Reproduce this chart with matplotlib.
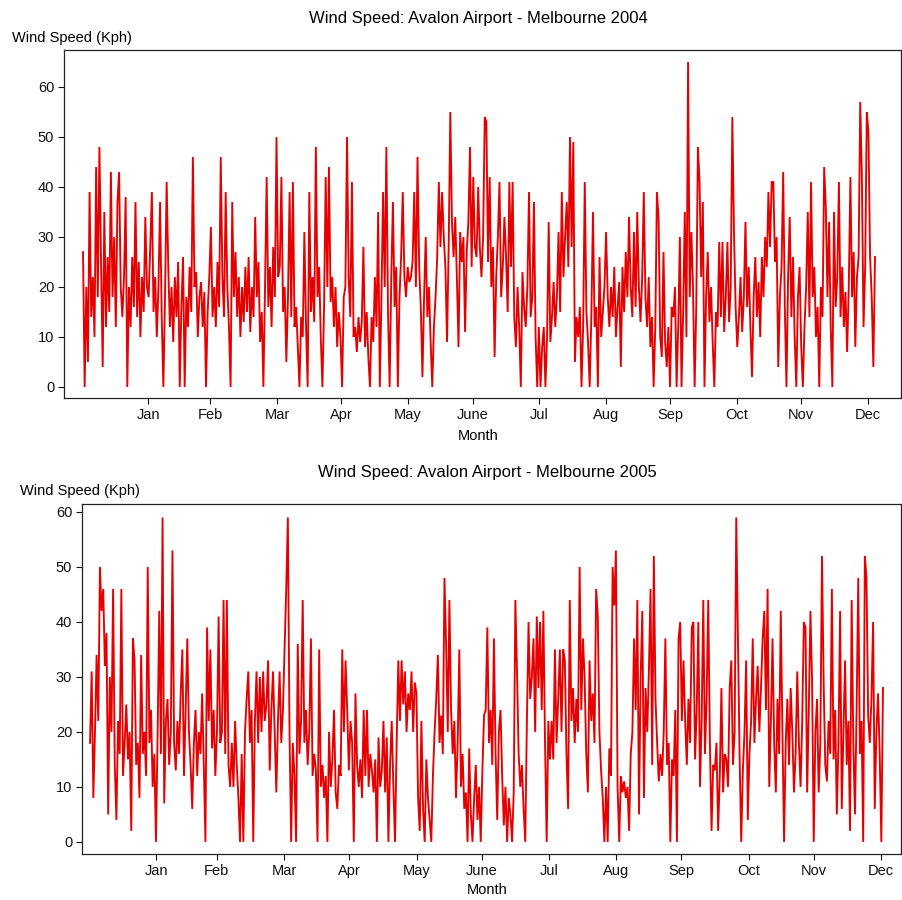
#!/usr/bin/env python3

import matplotlib
matplotlib.use('Agg')
import matplotlib.pyplot as plt
import numpy as np

plt.rcParams['font.family'] = ['Liberation Sans', 'DejaVu Sans']

MONTHS = ['Jan', 'Feb', 'Mar', 'Apr', 'May', 'June',
          'Jul', 'Aug', 'Sep', 'Oct', 'Nov', 'Dec']
MONTH_END_2004 = [31, 60, 91, 121, 152, 182, 213, 244, 274, 305, 335, 366]
MONTH_END_2005 = [31, 59, 90, 120, 151, 181, 212, 243, 273, 304, 334, 365]
Y_TICKS = [0, 10, 20, 30, 40, 50, 60]

# wind speed (kph), one row per month
speed_2004 = [
  27, 0, 20, 5, 39, 14, 22, 10, 44, 18, 48, 25, 4, 35, 12, 26, 15, 43, 18, 30,
  12, 37, 43, 20, 14, 22, 38, 0, 20, 12, 26, 16, 37, 14, 25, 10, 22, 15, 34, 20,
  18, 28, 39, 15, 22, 10, 20, 37, 14, 0, 18, 41, 24, 12, 20, 9, 22, 14, 25, 0,
  16, 26, 0, 18, 12, 24, 15, 46, 20, 23, 10, 18, 21, 12, 19, 0, 15, 22, 32, 14,
  20, 12, 25, 16, 46, 22, 14, 39, 20, 12, 0, 37, 18, 27, 14, 22, 10, 20, 13, 24,
  15, 26, 11, 20, 14, 34, 18, 25, 9, 15, 0, 20, 42, 16, 24, 12, 28, 18, 50, 22,
  24, 42, 15, 20, 5, 18, 39, 14, 41, 12, 16, 8, 0, 14, 10, 31, 12, 0, 39, 15,
  22, 13, 48, 18, 24, 10, 0, 16, 42, 20, 44, 17, 22, 12, 20, 8, 15, 10, 0, 18,
  20, 50, 22, 14, 41, 10, 12, 7, 14, 9, 13, 28, 8, 15, 6, 0, 14, 9, 22, 12,
  35, 0, 18, 39, 20, 48, 15, 0, 22, 37, 16, 24, 0, 18, 26, 39, 22, 18, 24, 21,
  22, 25, 39, 20, 46, 24, 16, 2, 18, 30, 14, 20, 9, 0, 12, 18, 26, 41, 28, 39,
  30, 24, 9, 28, 55, 33, 26, 34, 22, 8, 31, 25, 30, 11, 27, 33, 48, 24, 42, 28,
  26, 40, 28, 22, 30, 54, 53, 25, 42, 20, 28, 6, 22, 30, 41, 18, 24, 34, 26, 15,
  41, 24, 41, 14, 8, 20, 12, 0, 23, 16, 12, 20, 39, 14, 18, 37, 10, 0, 12, 0,
  8, 12, 0, 10, 33, 9, 14, 21, 12, 18, 31, 15, 39, 22, 30, 37, 24, 50, 28, 49,
  5, 14, 10, 16, 0, 12, 41, 15, 9, 0, 14, 35, 12, 16, 0, 26, 10, 15, 20, 31,
  18, 12, 20, 14, 24, 10, 16, 21, 4, 24, 15, 27, 18, 34, 20, 14, 31, 16, 35, 20,
  13, 22, 39, 18, 12, 22, 8, 14, 0, 12, 39, 34, 10, 6, 27, 9, 4, 12, 0, 16,
  14, 20, 0, 12, 30, 0, 15, 35, 10, 65, 18, 31, 20, 0, 16, 48, 41, 22, 37, 0,
  18, 27, 13, 20, 9, 0, 15, 12, 29, 14, 29, 11, 18, 29, 13, 20, 54, 31, 16, 8,
  14, 22, 11, 18, 33, 16, 24, 12, 2, 18, 26, 14, 21, 10, 26, 18, 30, 24, 39, 28,
  41, 41, 25, 30, 4, 18, 24, 43, 16, 0, 22, 34, 14, 26, 10, 0, 18, 24, 8, 0,
  12, 20, 35, 14, 41, 18, 24, 10, 16, 0, 20, 14, 44, 36, 18, 33, 12, 0, 35, 16,
  22, 41, 14, 24, 12, 19, 7, 20, 42, 18, 27, 8, 22, 26, 57, 42, 12, 24, 55, 51,
  26, 18, 4, 26,
]

speed_2005 = [
  18, 31, 8, 20, 34, 22, 50, 42, 46, 32, 38, 5, 30, 20, 46, 14, 4, 22, 16, 46,
  12, 18, 25, 15, 20, 2, 37, 33, 14, 18, 8, 34, 16, 20, 12, 50, 18, 24, 10, 16,
  0, 20, 42, 16, 59, 7, 22, 26, 14, 20, 53, 18, 13, 22, 16, 27, 35, 12, 24, 37,
  20, 14, 6, 18, 24, 12, 20, 16, 27, 14, 0, 39, 22, 35, 17, 24, 12, 20, 41, 18,
  20, 44, 16, 44, 14, 10, 18, 10, 22, 14, 8, 0, 16, 0, 20, 26, 31, 18, 24, 0,
  22, 31, 18, 30, 20, 31, 22, 25, 33, 13, 24, 31, 20, 9, 22, 31, 18, 24, 35, 46,
  59, 20, 0, 18, 12, 0, 36, 16, 22, 44, 18, 24, 14, 20, 37, 12, 16, 13, 0, 35,
  10, 14, 8, 12, 0, 20, 10, 15, 24, 9, 6, 14, 12, 35, 20, 33, 24, 13, 22, 18,
  0, 27, 14, 10, 15, 8, 24, 12, 24, 10, 16, 13, 9, 15, 0, 19, 10, 13, 22, 9,
  19, 0, 14, 22, 10, 0, 18, 33, 22, 33, 25, 31, 20, 27, 24, 31, 20, 29, 27, 8,
  2, 22, 6, 0, 15, 8, 4, 0, 12, 20, 26, 34, 18, 23, 16, 48, 36, 20, 44, 24,
  16, 22, 8, 18, 35, 10, 16, 6, 9, 0, 17, 5, 0, 8, 14, 4, 10, 0, 13, 23,
  24, 39, 18, 24, 14, 37, 16, 4, 20, 24, 12, 3, 10, 0, 8, 5, 0, 9, 44, 31,
  16, 10, 14, 6, 0, 22, 40, 26, 30, 37, 20, 41, 28, 40, 24, 42, 18, 0, 22, 15,
  22, 15, 35, 18, 26, 35, 20, 35, 33, 16, 6, 44, 22, 28, 18, 26, 20, 50, 24, 37,
  30, 16, 9, 33, 22, 27, 18, 46, 41, 20, 13, 8, 0, 10, 0, 17, 12, 50, 43, 53,
  10, 0, 12, 9, 11, 8, 10, 2, 16, 20, 37, 24, 44, 5, 30, 42, 8, 28, 20, 31,
  46, 14, 52, 26, 18, 11, 16, 12, 20, 37, 14, 18, 0, 15, 12, 24, 0, 37, 40, 22,
  33, 22, 14, 26, 18, 39, 40, 15, 24, 40, 10, 22, 44, 16, 26, 44, 18, 2, 14, 13,
  18, 2, 12, 28, 9, 16, 15, 10, 28, 33, 14, 20, 59, 37, 16, 0, 13, 20, 33, 4,
  16, 22, 37, 18, 26, 32, 20, 28, 37, 42, 24, 46, 10, 22, 37, 18, 9, 26, 16, 42,
  20, 0, 18, 26, 14, 28, 20, 9, 16, 31, 18, 10, 22, 40, 39, 9, 24, 42, 29, 0,
  20, 26, 9, 18, 52, 29, 14, 11, 22, 16, 46, 15, 24, 5, 18, 42, 6, 20, 33, 14,
  22, 2, 44, 18, 5, 24, 48, 16, 22, 0, 52, 48, 23, 18, 26, 40, 6, 20, 27, 16,
  0, 28,
]


def draw_panel(fig, rect, speeds, days, month_end, xlim, ylim, year,
               title_y, ylabel_x, ylabel_y, xlabel_y):
  ax = fig.add_axes(rect)
  x = np.linspace(days[0], days[1], len(speeds))
  ax.plot(x, speeds, color='#e60000', lw=1.35, solid_joinstyle='miter')
  ax.set_xlim(*xlim)
  ax.set_ylim(*ylim)
  ax.set_xticks(month_end)
  ax.set_xticklabels(MONTHS)
  ax.set_yticks(Y_TICKS)
  ax.tick_params(direction='out', length=4, width=0.8, labelsize=10.5,
                 colors='#111111', pad=3)
  for side in ['left', 'bottom', 'top', 'right']:
    ax.spines[side].set_linewidth(0.9)
    ax.spines[side].set_color('#222222')

  cx = (rect[0] + rect[0] + rect[2]) / 2
  fig.text(cx - 4 / 903, title_y,
           'Wind Speed: Avalon Airport - Melbourne {}'.format(year),
           ha='center', va='center', fontsize=12)
  fig.text(ylabel_x, ylabel_y, 'Wind Speed (Kph)', ha='left', va='center',
           fontsize=10.5)
  fig.text(cx - 4 / 903, xlabel_y, 'Month', ha='center', va='center',
           fontsize=10.5)
  return ax


def main():
  fig = plt.figure(figsize=(9.03, 9.0), dpi=100)

  draw_panel(fig, [64 / 903, 1 - 398 / 900, 837 / 903, 348 / 900],
             speed_2004, (0.75, 369.3), MONTH_END_2004,
             (-8.1, 381.4), (-2.2, 67.4), 2004,
             1 - 19 / 900, 12 / 903, 1 - 38 / 900, 1 - 436 / 900)

  draw_panel(fig, [82 / 903, 1 - 854 / 900, 819 / 903, 350 / 900],
             speed_2005, (0.6, 365.9), MONTH_END_2005,
             (-3.1, 374.2), (-2.2, 61.45), 2005,
             1 - 473 / 900, 20 / 903, 1 - 491 / 900, 1 - 890 / 900)

  fig.savefig('out.png', dpi=100)


if __name__ == '__main__':
  main()
